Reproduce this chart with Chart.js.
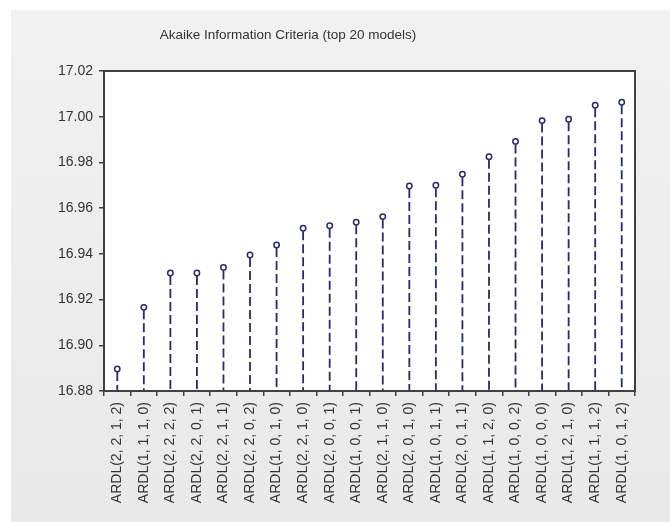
<!DOCTYPE html>
<html>
<head>
<meta charset="utf-8">
<script src="https://cdn.jsdelivr.net/npm/chart.js@4.4.1/dist/chart.umd.min.js"></script>
<style>
    html, body {margin: 0; padding: 0; background: #ffffff;}
    #panel {
        position: absolute;
        left: 11px;
        top: 10px;
        width: 659px;
        height: 512px;
        background: linear-gradient(#f1f1f1, #e9e9e9);
    }
</style>
</head>
<body>
<div id="panel"><canvas id="graph"></canvas></div>
<script>
const navy =      'rgb(42, 42, 100)'
const frameGrey = 'rgb(64, 64, 64)'
const textGrey =  'rgb(51, 51, 51)'
const fontFamily = '"Liberation Sans", Arial, sans-serif'

const chartTitle = 'Akaike Information Criteria (top 20 models)'
// Model names, best (lowest AIC) first
const models = [
    'ARDL(2, 2, 1, 2)', 'ARDL(1, 1, 1, 0)', 'ARDL(2, 2, 2, 2)', 'ARDL(2, 2, 0, 1)',
    'ARDL(2, 2, 1, 1)', 'ARDL(2, 2, 0, 2)', 'ARDL(1, 0, 1, 0)', 'ARDL(2, 2, 1, 0)',
    'ARDL(2, 0, 0, 1)', 'ARDL(1, 0, 0, 1)', 'ARDL(2, 1, 1, 0)', 'ARDL(2, 0, 1, 0)',
    'ARDL(1, 0, 1, 1)', 'ARDL(2, 0, 1, 1)', 'ARDL(1, 1, 2, 0)', 'ARDL(1, 0, 0, 2)',
    'ARDL(1, 0, 0, 0)', 'ARDL(1, 2, 1, 0)', 'ARDL(1, 1, 1, 2)', 'ARDL(1, 0, 1, 2)'
]
// Akaike criterion per model
const aicValues = [
    16.8896, 16.9166, 16.9316, 16.9316, 16.9340, 16.9395, 16.9439, 16.9512,
    16.9523, 16.9538, 16.9563, 16.9697, 16.9700, 16.9748, 16.9825, 16.9892,
    16.9983, 16.9989, 17.0050, 17.0063
]
const yMin = 16.88
const yMax = 17.02
const yStep = 0.02

// white plot area with a dark frame round it, title sits left of centre
const plotFrame = {
    id: 'plotFrame',
    beforeDraw(chart) {
        const {ctx, chartArea: a} = chart
        ctx.save()
        ctx.fillStyle = '#ffffff'
        ctx.fillRect(a.left, a.top, a.right - a.left, a.bottom - a.top)
        ctx.fillStyle = textGrey
        ctx.font = '13.5px ' + fontFamily
        ctx.textAlign = 'center'
        ctx.textBaseline = 'middle'
        ctx.fillText(chartTitle, 277, 25)
        ctx.restore()
    },
    afterDraw(chart) {
        const {ctx, chartArea: a} = chart
        ctx.save()
        ctx.strokeStyle = frameGrey
        ctx.lineWidth = 2
        ctx.strokeRect(a.left, a.top, a.right - a.left, a.bottom - a.top)
        ctx.restore()
    }
}

// dashed drop lines from each point down to the axis
const stems = {
    id: 'stems',
    beforeDatasetsDraw(chart) {
        const {ctx} = chart
        const base = chart.scales.y.getPixelForValue(yMin)
        const meta = chart.getDatasetMeta(0)
        ctx.save()
        ctx.strokeStyle = navy
        ctx.lineWidth = 1.8
        ctx.setLineDash([9, 4])
        meta.data.forEach(function(pt) {
            ctx.beginPath()
            ctx.moveTo(pt.x, pt.y + 3)
            ctx.lineTo(pt.x, base)
            ctx.stroke()
        })
        ctx.restore()
    }
}

Chart.defaults.font.family = fontFamily
Chart.defaults.font.size = 14
Chart.defaults.color = textGrey

const ctx = document.getElementById('graph')
new Chart(ctx, {
    type: 'line',
    data: {
        labels: models,
        datasets: [{
            label: 'AIC',
            data: aicValues,
            showLine: false,
            pointRadius: 2.7,
            pointBorderWidth: 1.5,
            pointBorderColor: navy,
            pointBackgroundColor: '#ffffff',
        }]
    },
    options: {
        responsive: true,
        maintainAspectRatio: false,
        animation: false,
        layout: {padding: {left: 0, right: 35, top: 61, bottom: 0}},
        plugins: {
            legend: {display: false},
            tooltip: {enabled: false},
            title: {display: false}
        },
        scales: {
            x: {
                offset: true,
                grid: {
                    offset: true,
                    drawOnChartArea: false,
                    tickLength: 5,
                    color: frameGrey,
                    lineWidth: 1.5
                },
                border: {display: false},
                ticks: {
                    minRotation: 90,
                    maxRotation: 90,
                    autoSkip: false,
                    padding: 6,
                    color: textGrey
                },
                afterFit(scale) { scale.height = 131 }
            },
            y: {
                min: yMin,
                max: yMax,
                grid: {
                    drawOnChartArea: false,
                    tickLength: 5,
                    color: frameGrey,
                    lineWidth: 1.5
                },
                border: {display: false},
                ticks: {
                    stepSize: yStep,
                    padding: 6,
                    color: textGrey,
                    callback: function(value) {
                        return Number(value).toFixed(2)
                    }
                },
                afterFit(scale) { scale.width = 93 }
            }
        }
    },
    plugins: [plotFrame, stems]
})
</script>
</body>
</html>
